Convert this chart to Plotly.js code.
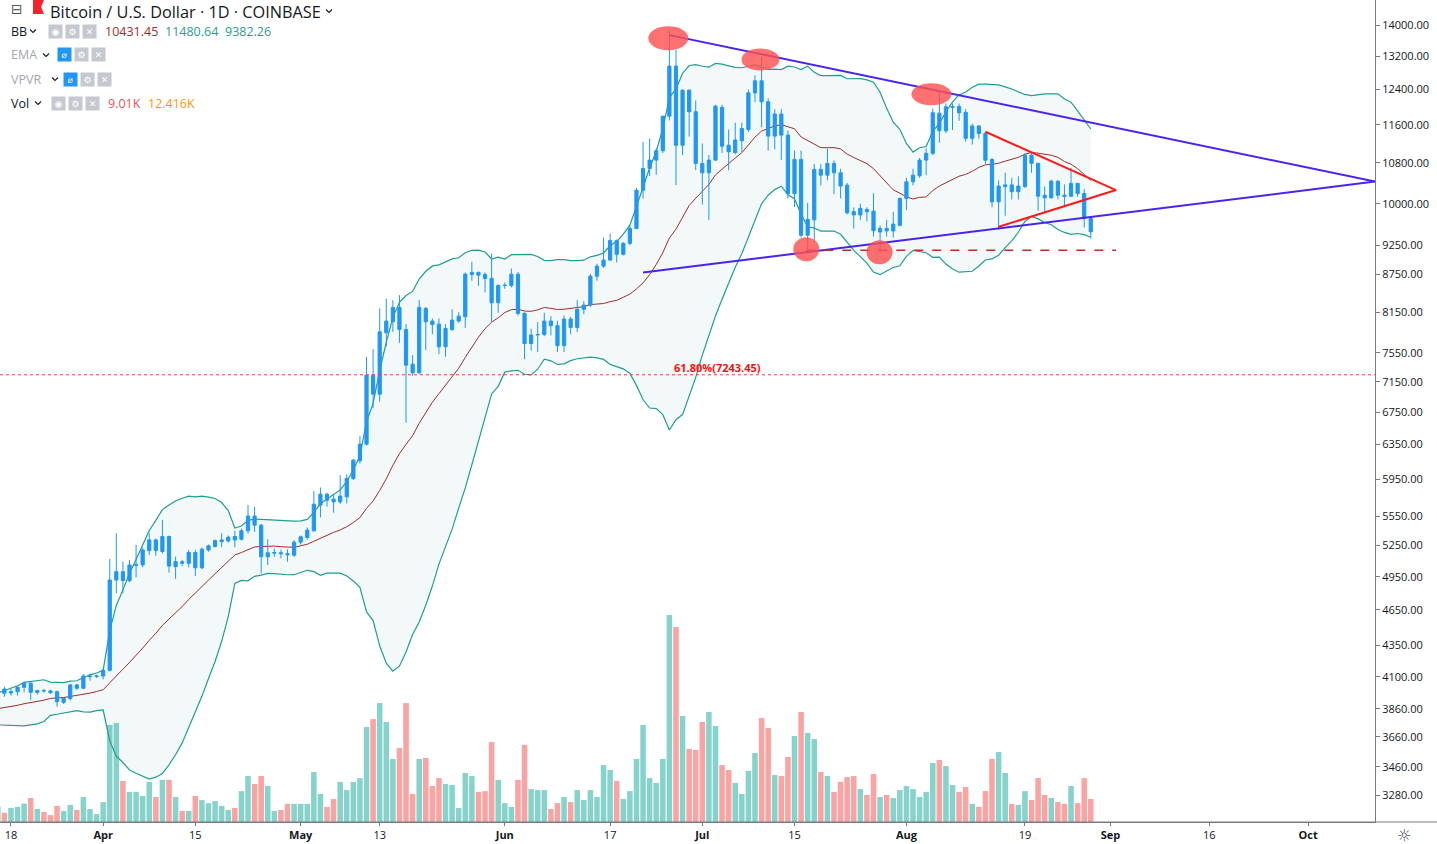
<!DOCTYPE html>
<html><head><meta charset="utf-8">
<script src="https://cdn.plot.ly/plotly-3.0.1.min.js"></script>
<style>html,body{margin:0;padding:0;background:#fff;overflow:hidden}#chart{width:1437px;height:844px}</style>
</head><body><div id="chart"></div>
<script>
// ---------------- DATA ----------------
const START_DATE = [2019, 2, 16]; // 16 Mar 2019, first daily candle
const OPEN = [3923,4006,3976,3986,4019,4050,3981,3996,3992,3986,3907,3935,4037,4012,4100,4102,
4106,4150,4920,4998,4914,5058,5062,5201,5306,5191,5340,5045,5093,5077,5181,5035,5207,5241,5289,5296,5340,5313,5398,5550,5456,5140,5175,5180,5170,5156,
5284,5330,5398,5666,5784,5730,5701,5755,5958,6159,6356,7238,6984,7840,8005,8224,7889,7390,7270,8208,8015,7969,7636,7889,8015,8080,8751,8785,8751,8686,8297,
8570,8570,8755,8132,7683,7807,7815,8015,7946,7653,8045,7920,8194,8261,8723,8890,8991,9330,9090,9280,9544,10257,10686,10856,11050,11794,12960,11165,12386,11892,
10788,10600,10856,11990,11165,11010,11260,11500,12320,12605,12117,11359,11841,11380,10193,10870,9423,9700,10668,10553,10788,10600,10355,9850,9790,9890,9860,9480,9544,9500,9600,
10098,10421,10540,10856,10995,11860,11472,11990,12010,11880,11310,11576,11415,10870,10035,10330,10360,10228,10330,10958,10790,10160,10111,10434,10161,10140,10390,10193,9725];
const HIGH = [4050,4024,4012,4029,4062,4065,4000,4005,4000,3994,3945,4045,4045,4120,4125,4115,
4165,5120,5373,5093,5109,5257,5230,5373,5320,5510,5350,5142,5110,5207,5207,5230,5260,5310,5373,5350,5400,5420,5666,5648,5470,5314,5221,5212,5212,5304,
5350,5432,5817,5857,5799,5780,5995,6003,6180,6452,7493,7602,8208,8364,8338,8417,7969,7517,8338,8230,8055,8055,7969,8193,8150,8785,8963,8800,8785,9105,8590,
8620,8850,8790,8150,7900,8000,8142,8090,8020,8100,8080,8340,8320,8760,8930,9380,9450,9350,9300,9600,10300,11238,11308,11100,11800,13887,13374,12400,12400,12150,
11200,10960,12050,12050,11500,11650,11650,12400,12740,13200,12200,11950,11950,11480,11050,11050,10015,10780,10780,11100,10850,10680,10400,9930,10000,9930,10200,9600,9700,9850,10120,
10500,10680,10900,11100,11966,12347,12079,12080,12080,11950,11630,11600,11450,10900,10450,10600,10500,10530,11000,11000,10800,10330,10460,10450,10370,10700,10400,10280,9740];
const LOW = [3915,3949,3957,3957,3981,3924,3965,3980,3970,3875,3895,3920,4000,4005,4070,4090,
4080,4140,4798,4798,4900,4944,5040,5158,5150,5175,4989,4930,5050,5038,4957,5020,5190,5230,5234,5280,5234,5300,5371,5388,4981,5060,5140,5124,5092,5140,
5260,5310,5390,5536,5650,5585,5680,5684,5940,6128,6340,6800,6884,7640,7854,7693,6617,7229,7250,7588,7820,7531,7493,7870,7990,7914,8648,8567,8460,8004,8142,
8520,8540,8100,7458,7580,7560,7790,7800,7560,7560,7820,7850,8120,8230,8650,8860,8980,8950,9070,9250,9530,10100,10533,10560,11000,11700,10355,10960,11350,10650,
9984,9695,10840,11000,10650,10980,11020,11450,12110,11550,11050,11080,10860,10100,9938,9380,9105,9300,10350,10450,10180,10100,9800,9544,9700,9670,9400,9120,9400,9380,9580,
9880,10350,10500,10550,10960,11216,11420,11487,11691,11240,11180,11300,10780,9930,9520,9775,10080,10080,10300,10600,9868,9820,10100,10080,9950,10130,10130,9560,9365];
const CLOSE = [4005,3974,3986,4019,4050,3981,3994,3992,3979,3912,3937,4037,4012,4106,4104,4106,
4150,4920,4998,4914,5061,5064,5207,5306,5201,5340,5051,5093,5077,5181,5035,5214,5247,5299,5306,5333,5306,5398,5550,5456,5140,5179,5182,5170,5160,5284,
5337,5405,5676,5784,5719,5701,5763,5958,6167,6356,7238,6984,7854,8015,8224,7889,7376,7270,8224,8005,7964,7636,7904,8030,8090,8757,8785,8740,8686,8297,8570,
8575,8755,8132,7683,7807,7815,8015,7946,7653,8045,7920,8194,8261,8723,8890,8991,9330,9090,9280,9544,10257,10686,10856,11050,11794,12960,11165,12386,11892,10788,
10600,10856,12018,11145,11027,11274,11523,12324,12605,12117,11359,11841,11380,10193,10870,9423,9707,10668,10553,10788,10600,10337,9830,9790,9912,9850,9503,9544,9500,9622,10098,
10421,10553,10856,10995,11869,11472,12003,12010,11869,11310,11576,11415,10854,10035,10337,10360,10228,10337,10958,10790,10143,10111,10434,10161,10140,10390,10193,9725,9484];
// volume in thousands of BTC
const VOLUME_K = [6.0,3.6,5.5,5.9,7.2,9.4,5.1,3.9,2.7,6.3,4.3,6.7,4.7,9.8,5.1,3.1,
7.8,38.0,38.8,16.1,11.8,11.8,10.2,15.7,9.8,16.5,16.5,9.8,4.3,4.3,10.2,8.6,7.4,8.2,6.3,4.7,5.5,12.1,18.0,14.9,18.0,14.1,4.3,4.7,7.1,7.1,
7.1,7.1,19.6,11.0,5.9,9.0,15.7,12.5,15.7,17.2,37.2,40.3,46.6,39.2,24.7,29.0,46.6,11.0,24.7,25.1,14.1,17.2,14.9,14.5,5.5,19.2,18.0,11.8,12.1,31.3,16.5,
7.4,5.9,16.5,30.2,12.9,12.5,12.5,5.1,7.4,9.8,7.8,12.5,8.6,12.5,9.8,22.3,20.4,16.1,9.0,12.1,24.7,38.0,17.2,15.3,24.7,81.1,76.4,41.5,28.6,28.2,
39.2,43.1,37.6,22.3,20.4,15.3,11.0,20.0,27.0,40.7,36.8,18.4,18.0,25.5,33.7,43.1,34.9,32.5,19.6,18.0,11.8,15.7,17.6,18.0,12.9,10.6,18.8,9.8,10.6,9.4,12.5,
14.1,12.9,9.8,11.8,23.1,24.3,21.9,14.5,11.8,13.7,7.1,5.9,12.1,24.7,27.4,19.2,7.1,6.7,12.1,8.6,17.2,10.6,9.4,7.8,7.1,14.1,7.4,17.2,9.0];
// closes of the 19 days before the first candle (Bollinger warm-up, 25 Feb - 15 Mar)
const PRIOR_CLOSE = [3840,3820,3830,3820,3823,3834,3790,3717,3857,3861,3873,3864,3943,3917,3869,3883,3867,3878,3923];

const Y_TICKS = [14000,13200,12400,11600,10800,10000,9250,8750,8150,7550,7150,6750,6350,5950,5550,5250,4950,4650,4350,4100,3860,3660,3460,3280];
const Y_TICK_LABELS = ['14000.00','13200.00','12400.00','11600.00','10800.00','10000.00','9250.00','8750.00','8150.00','7550.00','7150.00','6750.00','6350.00','5950.00','5550.00','5250.00','4950.00','4650.00','4350.00','4100.00','3860.00','3660.00','3460.00','3280.00'];
const X_TICKS = ['2019-03-18','2019-04-01','2019-04-15','2019-05-01','2019-05-13','2019-06-01','2019-06-17','2019-07-01','2019-07-15','2019-08-01','2019-08-19','2019-09-01','2019-09-16','2019-10-01'];
const X_TICK_LABELS = ['18','<b>Apr</b>','15','<b>May</b>','13','<b>Jun</b>','17','<b>Jul</b>','15','<b>Aug</b>','19','<b>Sep</b>','16','<b>Oct</b>'];

// drawings
const RESIST_X = ['2019-06-26','2019-10-11 04:00'], RESIST_Y = [13740, 10425];
const SUPPORT_X = ['2019-06-22','2019-10-11 04:00'], SUPPORT_Y = [8783, 10425];
const TRI_X = ['2019-08-13','2019-09-01 20:00','2019-08-15'], TRI_Y = [11452, 10260, 9574];
const FLOOR_X = ['2019-07-16 19:00','2019-09-01 20:00'], FLOOR_Y = [9160, 9160];
const FIB_LEVEL = 7243.45, FIB_LABEL = '61.80%(7243.45)', FIB_LABEL_X = '2019-06-26 12:00';
const MARK_X = ['2019-06-25 20:00','2019-07-09 20:00','2019-08-04 19:00','2019-07-16 19:00','2019-07-27 22:00'];
const MARK_Y = [13660, 13121, 12291, 9179, 9127];
const BB_LEGEND = ['10431.45','11480.64','9382.26'];
const VOL_LEGEND = ['9.01K','12.416K'];

// ---------------- build ----------------
const N = CLOSE.length;
const DATES = [];
for (let i = 0; i < N; i++) {
  DATES.push(new Date(Date.UTC(START_DATE[0], START_DATE[1], START_DATE[2] + i)).toISOString().slice(0, 10));
}
const allClose = PRIOR_CLOSE.concat(CLOSE);
const P = 20, KMULT = 2, OFF = PRIOR_CLOSE.length;
const bbMid = [], bbUp = [], bbLo = [];
for (let i = 0; i < N; i++) {
  const w = allClose.slice(i + OFF - P + 1, i + OFF + 1);
  const m = w.reduce((a, b) => a + b, 0) / P;
  const sd = Math.sqrt(w.reduce((a, b) => a + (b - m) * (b - m), 0) / P);
  bbMid.push(m); bbUp.push(m + KMULT * sd); bbLo.push(m - KMULT * sd);
}
const volColors = CLOSE.map((c, i) => c >= OPEN[i] ? '#86d3cc' : '#f9a3a2');

const BLUE = '#2196f3', TEAL = '#1f9e92', MAROON = '#a32b2b';
const PRICE_RANGE = [Math.log10(3118), Math.log10(14680)];
const X_RANGE = ['2019-03-16 08:00', '2019-10-11 04:00'];

const traces = [
  {type:'bar', x:DATES, y:VOLUME_K, marker:{color:volColors, line:{width:0}}, width:0.84*86400000, xaxis:'x', yaxis:'y', hoverinfo:'skip'},
  {type:'scatter', mode:'lines', x:DATES, y:bbUp, line:{color:TEAL, width:1.2}, xaxis:'x', yaxis:'y2', hoverinfo:'skip'},
  {type:'scatter', mode:'lines', x:DATES, y:bbLo, line:{color:TEAL, width:1.2}, fill:'tonexty', fillcolor:'rgba(38,150,140,0.06)', xaxis:'x', yaxis:'y2', hoverinfo:'skip'},
  {type:'scatter', mode:'lines', x:DATES, y:bbMid, line:{color:MAROON, width:1}, xaxis:'x', yaxis:'y2', hoverinfo:'skip'},
  {type:'candlestick', x:DATES, open:OPEN, high:HIGH, low:LOW, close:CLOSE, xaxis:'x', yaxis:'y3', whiskerwidth:0,
   increasing:{line:{color:BLUE, width:1}, fillcolor:BLUE}, decreasing:{line:{color:BLUE, width:1}, fillcolor:BLUE}, hoverinfo:'skip'},
  {type:'scatter', mode:'lines', x:RESIST_X, y:RESIST_Y, line:{color:'#4a22f2', width:2}, xaxis:'x', yaxis:'y3', hoverinfo:'skip'},
  {type:'scatter', mode:'lines', x:SUPPORT_X, y:SUPPORT_Y, line:{color:'#4a22f2', width:2}, xaxis:'x', yaxis:'y3', hoverinfo:'skip'},
  {type:'scatter', mode:'lines', x:TRI_X, y:TRI_Y, line:{color:'#ff1a1a', width:2}, xaxis:'x', yaxis:'y3', hoverinfo:'skip'},
  {type:'scatter', mode:'lines', x:FLOOR_X, y:FLOOR_Y, line:{color:'#c62828', width:1.4, dash:'dash'}, xaxis:'x', yaxis:'y3', hoverinfo:'skip'}
];

// plot-area pixel helpers (plot area = 1375 x 822 at top-left)
const PW = 1375, PH = 822;
const PX_PER_DECADE = PH / (PRICE_RANGE[1] - PRICE_RANGE[0]);
const px = v => v / PW, py = v => 1 - v / PH;
const FONT = 'Open Sans, Noto Sans, sans-serif';
function txt(x, y, text, size, color, extra) {
  return Object.assign({xref:'paper', yref:'paper', x:px(x), y:py(y), xanchor:'left', yanchor:'middle', showarrow:false,
    text:text, font:{family:FONT, size:size, color:color}, borderpad:0}, extra || {});
}
function icon(x, y, glyph, bg) {
  return {xref:'paper', yref:'paper', x:px(x), y:py(y), xanchor:'left', yanchor:'middle', showarrow:false, text:glyph,
    bgcolor:bg, width:13, height:13, borderpad:0, align:'center', font:{family:'DejaVu Sans', size:9, color:'#ffffff'}};
}
function chevron(x, y) {
  return {type:'path', xref:'paper', yref:'paper', layer:'above',
    path:`M ${px(x-3)} ${py(y-1.5)} L ${px(x)} ${py(y+1.5)} L ${px(x+3)} ${py(y-1.5)}`, line:{color:'#131722', width:1.1}};
}
const GRAY_ICON = '#c5c8d0', BLUE_ICON = '#2196f3';
const annotations = [
  txt(10, 0, '⊟', 14, '#555', {yanchor:'top', font:{family:'DejaVu Sans', size:14, color:'#555'}}),
  txt(49, 0, 'Bitcoin / U.S. Dollar · 1D · COINBASE', 16.3, '#131722', {yanchor:'top'}),
  txt(10, 31, 'BB', 12.5, '#131722'),
  icon(48, 31, '◉', GRAY_ICON), icon(65, 31, '⚙', GRAY_ICON), icon(82, 31, '✕', GRAY_ICON),
  txt(104, 31, BB_LEGEND[0], 12.5, MAROON), txt(164, 31, BB_LEGEND[1], 12.5, TEAL), txt(224, 31, BB_LEGEND[2], 12.5, TEAL),
  txt(10, 55, 'EMA', 12.5, '#a3a6af'),
  icon(57, 55, '⌀', BLUE_ICON), icon(74, 55, '⚙', GRAY_ICON), icon(91, 55, '✕', GRAY_ICON),
  txt(10, 79, 'VPVR', 12.5, '#a3a6af'),
  icon(63, 79, '⌀', BLUE_ICON), icon(80, 79, '⚙', GRAY_ICON), icon(97, 79, '✕', GRAY_ICON),
  txt(10, 103, 'Vol', 12.5, '#131722'),
  icon(51, 103, '◉', GRAY_ICON), icon(68, 103, '⚙', GRAY_ICON), icon(85, 103, '✕', GRAY_ICON),
  txt(107, 103, VOL_LEGEND[0], 12.5, '#ef5350'), txt(147, 103, VOL_LEGEND[1], 12.5, '#ff9800'),
  {xref:'x', yref:'y2', x:FIB_LABEL_X, y:Math.log10(FIB_LEVEL), xanchor:'left', yanchor:'bottom', showarrow:false, yshift:-1,
   text:'<b>' + FIB_LABEL + '</b>', font:{family:FONT, size:11, color:'#f50f0f'}, borderpad:0},
  txt(1396, 835, '☼', 16, '#4c525e', {font:{family:'DejaVu Sans', size:16, color:'#4c525e'}})
];

const MARK_W = [40, 38, 40, 26, 26], MARK_H = [24, 22, 22, 24, 24];
const shapes = [
  {type:'line', xref:'paper', x0:0, x1:1, yref:'y2', y0:FIB_LEVEL, y1:FIB_LEVEL, line:{color:'#f23645', width:1, dash:'dot'}, layer:'above'},
  {type:'line', xref:'paper', x0:0, x1:1437 / PW, yref:'paper', y0:0, y1:0, line:{color:'#787b86', width:1}, layer:'above'},
  {type:'path', xref:'paper', yref:'paper', path:`M ${px(33)} ${py(0)} L ${px(44)} ${py(0)} L ${px(41)} ${py(7)} L ${px(44)} ${py(14)} L ${px(33)} ${py(14)} Z`,
   fillcolor:'#f5222d', line:{width:0}, layer:'above'},
  chevron(33, 31), chevron(46, 55), chevron(55, 79), chevron(38, 103), chevron(329, 11)
];
MARK_X.forEach((x, i) => {
  const f = Math.pow(10, (MARK_H[i] / 2) / PX_PER_DECADE);
  shapes.push({type:'circle', xref:'x', yref:'y3', xsizemode:'pixel', xanchor:x, x0:-MARK_W[i]/2, x1:MARK_W[i]/2,
    y0:MARK_Y[i] / f, y1:MARK_Y[i] * f, fillcolor:'rgba(255,80,80,0.82)', line:{width:0}, layer:'above'});
});

const layout = {
  width:1437, height:844, margin:{l:0, r:62, t:0, b:22}, showlegend:false,
  paper_bgcolor:'#ffffff', plot_bgcolor:'#ffffff', font:{family:FONT, color:'#131722'},
  xaxis:{type:'date', range:X_RANGE, tickmode:'array', tickvals:X_TICKS, ticktext:X_TICK_LABELS, showgrid:false, zeroline:false,
    ticks:'outside', ticklen:3, tickcolor:'#787b86', showline:true, linecolor:'#787b86', linewidth:1,
    tickfont:{family:FONT, size:11, color:'#131722'}, rangeslider:{visible:false}, fixedrange:true},
  yaxis:{range:[0, 322], visible:false, fixedrange:true},
  yaxis2:{overlaying:'y', side:'right', type:'log', range:PRICE_RANGE, tickmode:'array', tickvals:Y_TICKS, ticktext:Y_TICK_LABELS,
    showgrid:false, zeroline:false, ticks:'outside', ticklen:4, tickcolor:'#787b86', showline:true, linecolor:'#787b86',
    tickfont:{family:FONT, size:11, color:'#131722'}, fixedrange:true},
  yaxis3:{overlaying:'y', type:'log', range:PRICE_RANGE, visible:false, fixedrange:true},
  annotations:annotations, shapes:shapes
};
Plotly.newPlot('chart', traces, layout, {displayModeBar:false, staticPlot:true});
</script></body></html>
